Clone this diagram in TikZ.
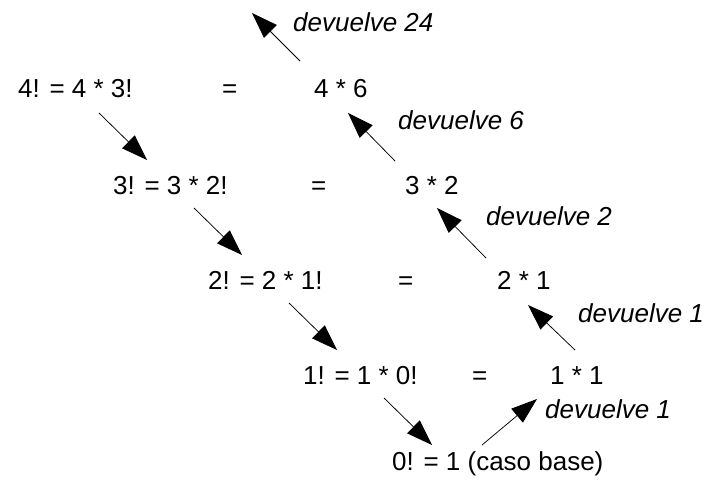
\documentclass[tikz,border=0pt]{standalone}
\usepackage{fontspec}
\setmainfont{Liberation Sans}
\usetikzlibrary{arrows.meta}

\tikzset{
  paso/.style={anchor=base west, inner sep=0pt, font=\fontsize{26}{31}\selectfont},
  nota/.style={paso, font=\fontsize{26}{31}\selectfont\itshape},
  flecha/.style={-{Triangle[length=26pt,width=18pt]}, line width=0.75pt}
}

\begin{document}
\begin{tikzpicture}[x=1pt,y=-1pt]
\useasboundingbox (0,0) rectangle (708,481);

% llamadas recursivas
\node[paso] (n4) at (18,98) {4! = 4 * 3!};
\node[paso] (n3) at (113,194) {3! = 3 * 2!};
\node[paso] (n2) at (208,289) {2! = 2 * 1!};
\node[paso] (n1) at (303,384) {1! = 1 * 0!};
\node[paso] (n0) at (392,470) {0! = 1 (caso base)};

\node[paso] (e1) at (222,98) {=};
\node[paso] (e2) at (311,194) {=};
\node[paso] (e3) at (398,289) {=};
\node[paso] (e4) at (472,384) {=};

\node[paso] (p4) at (314,98) {4 * 6};
\node[paso] (p3) at (405,194) {3 * 2};
\node[paso] (p2) at (497,289) {2 * 1};
\node[paso] (p1) at (550,384) {1 * 1};

% valores devueltos
\node[nota] (d24) at (293,32) {devuelve 24};
\node[nota] (d6) at (398,130) {devuelve 6};
\node[nota] (d2) at (486,225) {devuelve 2};
\node[nota] (d1a) at (578,322) {devuelve 1};
\node[nota] (d1b) at (545,418) {devuelve 1};
\coordinate (cima) at (252,13);

% bajada
\draw[flecha] ([shift={(81,15)}]n4.base west) -- ([shift={(34,-34)}]n3.base west);
\draw[flecha] ([shift={(81,14)}]n3.base west) -- ([shift={(34,-34)}]n2.base west);
\draw[flecha] ([shift={(81,14)}]n2.base west) -- ([shift={(34,-34)}]n1.base west);
\draw[flecha] ([shift={(81,14)}]n1.base west) -- ([shift={(40,-25)}]n0.base west);

% subida
\draw[flecha] ([shift={(90,-25)}]n0.base west) -- ([shift={(-13,15)}]p1.base west);
\draw[flecha] ([shift={(25,-34)}]p1.base west) -- ([shift={(31,16)}]p2.base west);
\draw[flecha] ([shift={(-11,-31)}]p2.base west) -- ([shift={(32,14)}]p3.base west);
\draw[flecha] ([shift={(-10,-33)}]p3.base west) -- ([shift={(34,15)}]p4.base west);
\draw[flecha] ([shift={(-14,-37)}]p4.base west) -- (cima);

\end{tikzpicture}
\end{document}
